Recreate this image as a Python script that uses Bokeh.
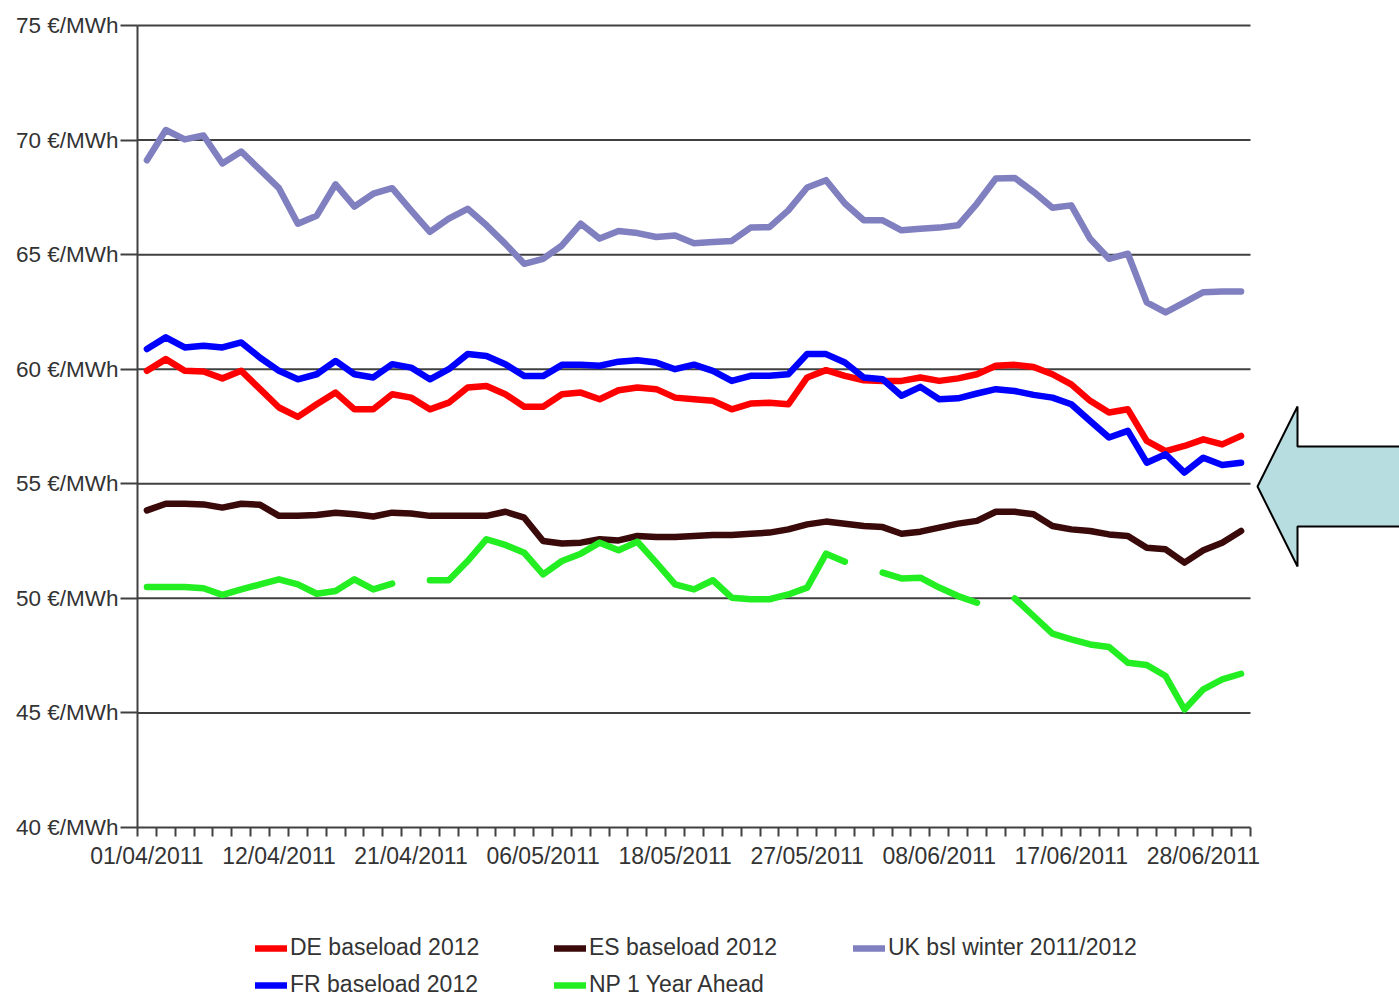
import numpy as np
from bokeh.plotting import figure
from bokeh.models import Range1d, FixedTicker, Legend, LegendItem, ColumnDataSource
from bokeh.embed import file_html
from bokeh.resources import INLINE

# ---------------- data ----------------
DATES = [
    "01/04/2011", "04/04/2011", "05/04/2011", "06/04/2011", "07/04/2011", "08/04/2011",
    "11/04/2011", "12/04/2011", "13/04/2011", "14/04/2011", "15/04/2011", "18/04/2011",
    "19/04/2011", "20/04/2011", "21/04/2011", "26/04/2011", "27/04/2011", "28/04/2011",
    "03/05/2011", "04/05/2011", "05/05/2011", "06/05/2011", "09/05/2011", "10/05/2011",
    "11/05/2011", "12/05/2011", "16/05/2011", "17/05/2011", "18/05/2011", "19/05/2011",
    "20/05/2011", "23/05/2011", "24/05/2011", "25/05/2011", "26/05/2011", "27/05/2011",
    "31/05/2011", "01/06/2011", "02/06/2011", "03/06/2011", "06/06/2011", "07/06/2011",
    "08/06/2011", "09/06/2011", "10/06/2011", "13/06/2011", "14/06/2011", "15/06/2011",
    "16/06/2011", "17/06/2011", "20/06/2011", "21/06/2011", "22/06/2011", "23/06/2011",
    "24/06/2011", "27/06/2011", "28/06/2011", "29/06/2011", "30/06/2011",
]

DE = [59.93, 60.44, 59.93, 59.90, 59.60, 59.93, 59.13, 58.33, 57.92, 58.47,
      58.98, 58.25, 58.25, 58.91, 58.76, 58.25, 58.54, 59.20, 59.27, 58.91,
      58.36, 58.36, 58.91, 58.98, 58.69, 59.08, 59.20, 59.13, 58.76,
      58.69, 58.62, 58.25, 58.50, 58.54, 58.47, 59.64, 59.96, 59.71, 59.52,
      59.49, 59.49, 59.64, 59.49, 59.60, 59.78, 60.15, 60.19, 60.10, 59.78,
      59.34, 58.62, 58.11, 58.25, 56.87, 56.43, 56.65, 56.94, 56.72, 57.09]

FR = [60.88, 61.39, 60.95, 61.02, 60.95, 61.17, 60.50, 59.93, 59.56, 59.78,
      60.36, 59.78, 59.64, 60.22, 60.07, 59.56, 60.00, 60.66, 60.58, 60.22,
      59.70, 59.70, 60.19, 60.19, 60.15, 60.33, 60.39, 60.29, 60.00,
      60.20, 59.93, 59.49, 59.71, 59.71, 59.78, 60.66, 60.66, 60.29, 59.64,
      59.56, 58.84, 59.23, 58.69, 58.73, 58.94, 59.13, 59.05, 58.88, 58.76,
      58.47, 57.74, 57.02, 57.31, 55.92, 56.29, 55.49, 56.14, 55.82, 55.92]

ES = [53.84, 54.13, 54.13, 54.10, 53.96, 54.13, 54.08, 53.60, 53.60, 53.64,
      53.74, 53.67, 53.57, 53.74, 53.70, 53.60, 53.60, 53.60, 53.60, 53.78,
      53.52, 52.50, 52.39, 52.43, 52.58, 52.53, 52.72, 52.68, 52.68,
      52.72, 52.77, 52.77, 52.82, 52.87, 53.01, 53.23, 53.35, 53.26, 53.16,
      53.11, 52.82, 52.91, 53.09, 53.26, 53.38, 53.78, 53.78, 53.67, 53.16,
      53.01, 52.94, 52.79, 52.72, 52.21, 52.14, 51.56, 52.10, 52.43, 52.94]

NP = [50.50, 50.50, 50.50, 50.44, 50.15, 50.39, 50.61, 50.83, 50.61, 50.20,
      50.32, 50.83, 50.39, 50.64, None, 50.79, 50.79, 51.63, 52.58, 52.33,
      51.99, 51.05, 51.63, 51.95, 52.43, 52.10, 52.47, 51.56, 50.61,
      50.39, 50.79, 50.03, 49.96, 49.96, 50.17, 50.47, 51.95, 51.60, None,
      51.12, 50.87, 50.90, 50.47, 50.10, 49.81, None, 50.00, 49.23, 48.46,
      48.21, 47.99, 47.88, 47.19, 47.09, 46.61, 45.15, 46.03, 46.46, 46.71]

UK = [69.12, 70.44, 70.03, 70.20, 68.98, 69.50, 68.70, 67.90, 66.35, 66.70,
      68.07, 67.10, 67.66, 67.90, 66.93, 65.99, 66.57, 67.00, 66.28, 65.47,
      64.60, 64.82, 65.40, 66.35, 65.70, 66.03, 65.94, 65.77, 65.84,
      65.50, 65.55, 65.60, 66.18, 66.20, 66.93, 67.93, 68.25, 67.23, 66.50,
      66.50, 66.06, 66.13, 66.18, 66.28, 67.23, 68.32, 68.35, 67.74, 67.05,
      67.15, 65.69, 64.82, 65.04, 62.92, 62.48, 62.92, 63.36, 63.39, 63.39]

SERIES_NAMES = ["DE baseload 2012", "FR baseload 2012", "ES baseload 2012",
                "NP 1 Year Ahead", "UK bsl winter 2011/2012"]
Y_TICKS = [40, 45, 50, 55, 60, 65, 70, 75]
LABEL_STEP = 7

# ---------------- styles ----------------
COLORS = ["#FF0000", "#0000FF", "#3A0A0A", "#22EE22", "#8080C0"]
FONT = "Liberation Sans"
TEXT_COLOR = "#333333"
AXIS_COLOR = "#404040"

N = len(DATES)
x = np.arange(N)
Y_MIN, Y_MAX = Y_TICKS[0], Y_TICKS[-1]

# pixel layout (page coordinates); the frame covers the whole figure
PLOT_LEFT = 137     # y-axis line (x = -0.5)
PLOT_TOP = 25       # y = Y_MAX
PLOT_BOTTOM = 827   # y = Y_MIN (x-axis line)
TOTAL_W = 1399
TOTAL_H = 996
DATA_W = 1113       # pixel width of the category area

ppu_y = (PLOT_BOTTOM - PLOT_TOP) / (Y_MAX - Y_MIN)
ppu_x = DATA_W / N
y_top = Y_MAX + PLOT_TOP / ppu_y
y_bot = Y_MIN - (TOTAL_H - PLOT_BOTTOM) / ppu_y
x_start = -0.5 - PLOT_LEFT / ppu_x
x_end = -0.5 + (TOTAL_W - PLOT_LEFT) / ppu_x

p = figure(frame_width=TOTAL_W, frame_height=TOTAL_H, title=None,
           x_range=Range1d(x_start, x_end), y_range=Range1d(y_bot, y_top),
           output_backend="svg", toolbar_location=None,
           min_border_left=0, min_border_right=0, min_border_top=0,
           min_border_bottom=0,
           background_fill_color="white", border_fill_color="white",
           outline_line_color=None)
p.xgrid.visible = False
p.ygrid.visible = False

# horizontal gridlines restricted to the category area
gy = Y_TICKS[1:]
p.segment(x0=[-0.5] * len(gy), x1=[N - 0.5] * len(gy), y0=gy, y1=gy,
          line_color=AXIS_COLOR, line_width=2)

# series
def arr(v):
    return np.array([np.nan if a is None else a for a in v], dtype=float)

renderers = []
for vals, color in zip([DE, FR, ES, NP, UK], COLORS):
    src = ColumnDataSource(dict(x=x, y=arr(vals)))
    r = p.line("x", "y", source=src, line_color=color, line_width=6.5,
               line_join="round", line_cap="round")
    renderers.append(r)

# arrow (decoration on the right, light blue with black outline)
def px_to_x(px):
    return -0.5 + (px - PLOT_LEFT) / ppu_x

def py_to_y(py):
    return Y_MAX - (py - PLOT_TOP) / ppu_y

ARROW_PX = [(1257, 486), (1297, 406), (1297, 446), (1420, 446),
            (1420, 526), (1297, 526), (1297, 566)]
p.patch([px_to_x(a) for a, b in ARROW_PX], [py_to_y(b) for a, b in ARROW_PX],
        fill_color="#B7DDE0", line_color="black", line_width=2)

# y axis, drawn at x = -0.5 inside the frame
ya = p.yaxis[0]
ya.fixed_location = -0.5
ya.ticker = FixedTicker(ticks=Y_TICKS)
ya.major_label_overrides = {v: f"{v} €/MWh" for v in Y_TICKS}
ya.bounds = (Y_MIN, Y_MAX)
ya.major_tick_out = 17
ya.major_tick_in = 0
ya.minor_tick_out = 0
ya.minor_tick_in = 0
ya.axis_line_color = AXIS_COLOR
ya.axis_line_width = 2
ya.major_tick_line_color = AXIS_COLOR
ya.major_tick_line_width = 2
ya.major_label_standoff = 2
ya.major_label_text_font = FONT
ya.major_label_text_font_size = "22.5px"
ya.major_label_text_color = TEXT_COLOR

# x axis, drawn at y = Y_MIN inside the frame
xa = p.xaxis[0]
xa.fixed_location = Y_MIN
label_idx = list(range(0, N, LABEL_STEP))
xa.ticker = FixedTicker(ticks=label_idx, minor_ticks=[i - 0.5 for i in range(N + 1)])
xa.major_label_overrides = {i: DATES[i] for i in label_idx}
xa.bounds = (-0.5, N - 0.5)
xa.major_tick_out = 0
xa.major_tick_in = 0
xa.minor_tick_out = 9
xa.minor_tick_in = 0
xa.minor_tick_line_color = AXIS_COLOR
xa.minor_tick_line_width = 2
xa.axis_line_color = AXIS_COLOR
xa.axis_line_width = 2
xa.major_label_standoff = 6
xa.major_label_text_font = FONT
xa.major_label_text_font_size = "23px"
xa.major_label_text_color = TEXT_COLOR

# legend (3 columns, row-major), inside the lower part of the frame
ROW_H = 26
ROW_GAP = 10
order = [0, 2, 4, 1, 3]
items = [LegendItem(label=SERIES_NAMES[k], renderers=[renderers[k]]) for k in order]
legend_h = 2 * ROW_H + ROW_GAP
legend_top_px = 936
legend = Legend(items=items, orientation="horizontal", ncols=3,
                location=(255, TOTAL_H - legend_top_px - legend_h),
                label_text_font=FONT, label_text_font_size="23px",
                label_text_color=TEXT_COLOR,
                glyph_width=32, glyph_height=ROW_H, label_height=ROW_H,
                label_width=254, label_standoff=3, spacing=ROW_GAP,
                padding=0, margin=0,
                border_line_color=None, background_fill_alpha=0)
p.add_layout(legend, "center")

open("out.html", "w").write(file_html(p, INLINE))
